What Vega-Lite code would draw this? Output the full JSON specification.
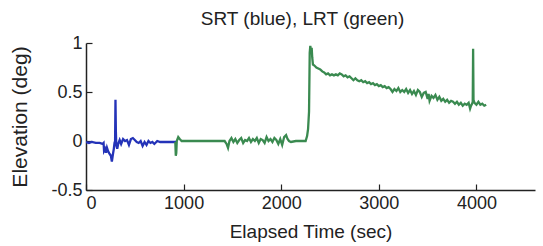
{
  "$schema": "https://vega.github.io/schema/vega-lite/v6.json",
  "width": 449,
  "height": 147,
  "autosize": "none",
  "padding": {"left": 86, "top": 43, "right": 8, "bottom": 56},
  "background": "white",
  "config": {
    "font": "Liberation Sans",
    "view": {"stroke": null},
    "axis": {"grid": false, "domainColor": "#222", "tickColor": "#222", "labelColor": "#222", "titleColor": "#222", "labelFont": "Liberation Sans", "titleFont": "Liberation Sans", "labelFontSize": 18, "titleFontSize": 19, "titleFontWeight": "normal", "domainWidth": 1.5, "tickWidth": 1.2}
  },
  "title": {"text": "SRT (blue),  LRT (green)", "fontSize": 19, "fontWeight": "normal", "font": "Liberation Sans", "color": "#222", "offset": 5, "dx": -8},
  "datasets": {
    "srt": [
      {"t":0,"v":-0.01},{"t":30,"v":-0.02},{"t":60,"v":-0.01},{"t":100,"v":-0.02},{"t":140,"v":-0.02},{"t":170,"v":-0.03},{"t":180,"v":-0.02},{"t":185,"v":-0.1},{"t":195,"v":-0.08},{"t":205,"v":-0.12},{"t":215,"v":-0.07},{"t":225,"v":-0.1},{"t":240,"v":-0.13},{"t":255,"v":-0.15},{"t":265,"v":-0.21},{"t":275,"v":-0.14},{"t":285,"v":-0.08},{"t":292,"v":-0.02},{"t":298,"v":0.0},{"t":302,"v":0.42},{"t":306,"v":0.1},{"t":310,"v":-0.04},{"t":320,"v":-0.08},{"t":330,"v":-0.03},{"t":345,"v":0.01},{"t":360,"v":-0.03},{"t":380,"v":0.02},{"t":400,"v":0.0},{"t":420,"v":0.01},{"t":440,"v":-0.04},{"t":460,"v":0.02},{"t":480,"v":0.03},{"t":500,"v":0.01},{"t":520,"v":-0.01},{"t":540,"v":-0.02},{"t":560,"v":0.0},{"t":580,"v":-0.05},{"t":600,"v":-0.01},{"t":620,"v":-0.04},{"t":640,"v":0.0},{"t":660,"v":-0.02},{"t":680,"v":-0.01},{"t":700,"v":-0.03},{"t":730,"v":0.0},{"t":760,"v":-0.01},{"t":800,"v":-0.01},{"t":850,"v":-0.01},{"t":900,"v":-0.01},{"t":930,"v":-0.01}
    ],
    "lrt": [
      {"t":915,"v":-0.01},{"t":920,"v":-0.15},{"t":925,"v":-0.12},{"t":930,"v":0.0},{"t":945,"v":0.04},{"t":960,"v":0.02},{"t":980,"v":0.0},{"t":1050,"v":0.0},{"t":1150,"v":0.0},{"t":1250,"v":0.0},{"t":1350,"v":0.0},{"t":1420,"v":0.0},{"t":1440,"v":-0.03},{"t":1455,"v":-0.07},{"t":1470,"v":0.0},{"t":1490,"v":0.03},{"t":1510,"v":-0.01},{"t":1530,"v":0.02},{"t":1550,"v":-0.02},{"t":1570,"v":0.01},{"t":1590,"v":0.03},{"t":1610,"v":-0.02},{"t":1630,"v":0.01},{"t":1650,"v":0.0},{"t":1670,"v":0.03},{"t":1690,"v":-0.01},{"t":1710,"v":0.02},{"t":1730,"v":0.0},{"t":1750,"v":0.03},{"t":1770,"v":-0.02},{"t":1790,"v":0.02},{"t":1810,"v":0.01},{"t":1830,"v":-0.02},{"t":1850,"v":0.04},{"t":1870,"v":0.0},{"t":1890,"v":0.02},{"t":1910,"v":-0.01},{"t":1930,"v":0.03},{"t":1950,"v":0.01},{"t":1970,"v":-0.03},{"t":1990,"v":0.02},{"t":2010,"v":-0.04},{"t":2030,"v":0.04},{"t":2050,"v":0.06},{"t":2065,"v":0.02},{"t":2080,"v":0.0},{"t":2100,"v":-0.01},{"t":2150,"v":0.0},{"t":2200,"v":0.0},{"t":2250,"v":0.0},{"t":2265,"v":0.05},{"t":2275,"v":0.12},{"t":2285,"v":0.3},{"t":2292,"v":0.9},{"t":2298,"v":0.97},{"t":2305,"v":0.92},{"t":2312,"v":0.95},{"t":2318,"v":0.85},{"t":2325,"v":0.78},{"t":2340,"v":0.77},{"t":2360,"v":0.75},{"t":2380,"v":0.74},{"t":2400,"v":0.73},{"t":2420,"v":0.71},{"t":2440,"v":0.7},{"t":2460,"v":0.68},{"t":2480,"v":0.69},{"t":2500,"v":0.67},{"t":2520,"v":0.68},{"t":2540,"v":0.67},{"t":2560,"v":0.68},{"t":2580,"v":0.67},{"t":2600,"v":0.69},{"t":2620,"v":0.68},{"t":2640,"v":0.66},{"t":2660,"v":0.67},{"t":2680,"v":0.65},{"t":2700,"v":0.66},{"t":2720,"v":0.64},{"t":2740,"v":0.62},{"t":2760,"v":0.64},{"t":2780,"v":0.62},{"t":2800,"v":0.61},{"t":2820,"v":0.62},{"t":2840,"v":0.6},{"t":2860,"v":0.61},{"t":2880,"v":0.59},{"t":2900,"v":0.6},{"t":2920,"v":0.58},{"t":2940,"v":0.59},{"t":2960,"v":0.57},{"t":2980,"v":0.58},{"t":3000,"v":0.56},{"t":3020,"v":0.57},{"t":3040,"v":0.55},{"t":3060,"v":0.56},{"t":3080,"v":0.54},{"t":3100,"v":0.55},{"t":3120,"v":0.53},{"t":3140,"v":0.5},{"t":3160,"v":0.53},{"t":3180,"v":0.51},{"t":3200,"v":0.54},{"t":3220,"v":0.5},{"t":3240,"v":0.52},{"t":3260,"v":0.5},{"t":3280,"v":0.53},{"t":3300,"v":0.49},{"t":3320,"v":0.52},{"t":3340,"v":0.48},{"t":3360,"v":0.51},{"t":3380,"v":0.47},{"t":3400,"v":0.52},{"t":3420,"v":0.5},{"t":3440,"v":0.45},{"t":3460,"v":0.49},{"t":3480,"v":0.5},{"t":3500,"v":0.43},{"t":3510,"v":0.48},{"t":3520,"v":0.41},{"t":3540,"v":0.46},{"t":3560,"v":0.44},{"t":3580,"v":0.47},{"t":3600,"v":0.42},{"t":3620,"v":0.45},{"t":3640,"v":0.41},{"t":3660,"v":0.43},{"t":3680,"v":0.4},{"t":3700,"v":0.42},{"t":3720,"v":0.39},{"t":3740,"v":0.41},{"t":3760,"v":0.4},{"t":3780,"v":0.38},{"t":3800,"v":0.4},{"t":3820,"v":0.37},{"t":3840,"v":0.39},{"t":3860,"v":0.36},{"t":3880,"v":0.38},{"t":3900,"v":0.37},{"t":3920,"v":0.39},{"t":3935,"v":0.33},{"t":3945,"v":0.36},{"t":3955,"v":0.38},{"t":3962,"v":0.4},{"t":3966,"v":0.94},{"t":3970,"v":0.42},{"t":3980,"v":0.39},{"t":4000,"v":0.37},{"t":4020,"v":0.4},{"t":4040,"v":0.37},{"t":4060,"v":0.38},{"t":4080,"v":0.36},{"t":4100,"v":0.37}
    ]
  },
  "layer": [
    {
      "data": {"name": "srt"},
      "mark": {"type": "line", "color": "#2433b8", "strokeWidth": 2.3, "clip": true},
      "encoding": {
        "x": {"field": "t", "type": "quantitative", "scale": {"domain": [0, 4600], "nice": false}, "axis": {"title": "Elapsed Time (sec)", "values": [0, 1000, 2000, 3000, 4000], "format": "d", "tickSize": -6, "labelPadding": 10, "titlePadding": 10}},
        "y": {"field": "v", "type": "quantitative", "scale": {"domain": [-0.5, 1], "nice": false}, "axis": {"title": "Elevation (deg)", "titleFontSize": 21, "values": [-0.5, 0, 0.5, 1], "labelExpr": "datum.value + ''", "tickSize": -6, "labelPadding": 10, "titlePadding": 20}}
      }
    },
    {
      "data": {"name": "lrt"},
      "mark": {"type": "line", "color": "#3a8a50", "strokeWidth": 2.3, "clip": true},
      "encoding": {
        "x": {"field": "t", "type": "quantitative"},
        "y": {"field": "v", "type": "quantitative"}
      }
    }
  ]
}
